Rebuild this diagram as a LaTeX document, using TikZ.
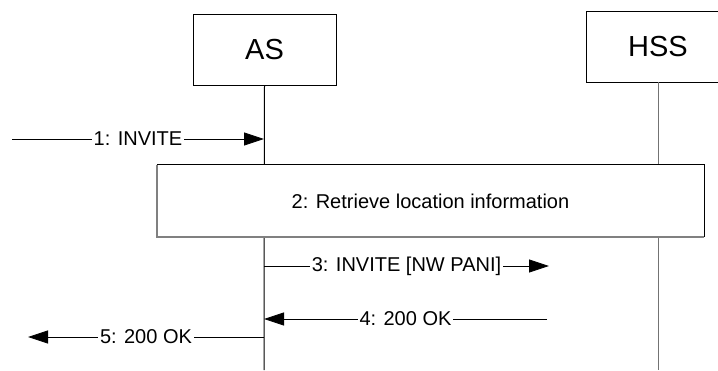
\documentclass[tikz,border=0pt]{standalone}
\usepackage{fontspec}
\setmainfont{Liberation Sans}
\usetikzlibrary{arrows.meta}

\tikzset{
  entity/.style={draw=black, line width=0.9pt, fill=white, minimum width=143pt,
    minimum height=71pt, inner sep=0pt, font=\fontsize{29}{33}\selectfont},
  lifeline/.style={line width=1pt},
  msg/.style={line width=0.8pt, -{Triangle[length=20pt,width=13pt]}},
  msglabel/.style={fill=white, inner xsep=2pt, inner ysep=1pt,
    font=\fontsize{20}{24}\selectfont},
  actionbox/.style={fill=white, inner sep=0pt,
    font=\fontsize{20}{24}\selectfont},
  shadeedge/.style={draw=black!50, line width=1.5pt},
  darkedge/.style={draw=black, line width=0.9pt}
}

\begin{document}
\begin{tikzpicture}[x=1pt, y=-1pt]
  \useasboundingbox (0,0) rectangle (718,370);

  % lifelines
  \coordinate (asbot) at (264,370);
  \coordinate (hssbot) at (658,370);

  % entities
  \node[entity] (as) at (264.5,49.5) {AS};
  \begin{scope}
    \clip (0,0) rectangle (718,370);
    \node[entity] (hss) at (658,46.5) {HSS};
    \draw[lifeline, draw=black!55] (hss.south) -- (hssbot);
  \end{scope}
  \draw[lifeline] (as.south) -- (asbot);

  % message end points
  \coordinate (src1) at (12,139);
  \coordinate (as1) at (264,139);
  \coordinate (as3) at (264,266);
  \coordinate (dst3) at (549,266);
  \coordinate (src4) at (547,319);
  \coordinate (as4) at (264,319);
  \coordinate (as5) at (264,337);
  \coordinate (dst5) at (28,337);

  % 1: INVITE
  \draw[msg] (src1) -- node[msglabel] (l1) {1: INVITE} (as1);

  % 2: action box across both lifelines, grey lower-left edges
  \node[actionbox, minimum width=547pt, minimum height=72pt] (act) at (430.5,201)
    {2: Retrieve location information};
  \draw[shadeedge] (act.north west) -- (act.south west) -- (act.south east);
  \draw[darkedge] (act.north west) -- (act.north east) -- (act.south east);

  % 3: INVITE [NW PANI]
  \draw[msg] (as3) -- node[msglabel] (l3) {3: INVITE [NW PANI]} (dst3);

  % 4: 200 OK
  \draw[msg] (src4) -- node[msglabel] (l4) {4: 200 OK} (as4);

  % 5: 200 OK
  \draw[msg] (as5) -- node[msglabel] (l5) {5: 200 OK} (dst5);
\end{tikzpicture}
\end{document}
